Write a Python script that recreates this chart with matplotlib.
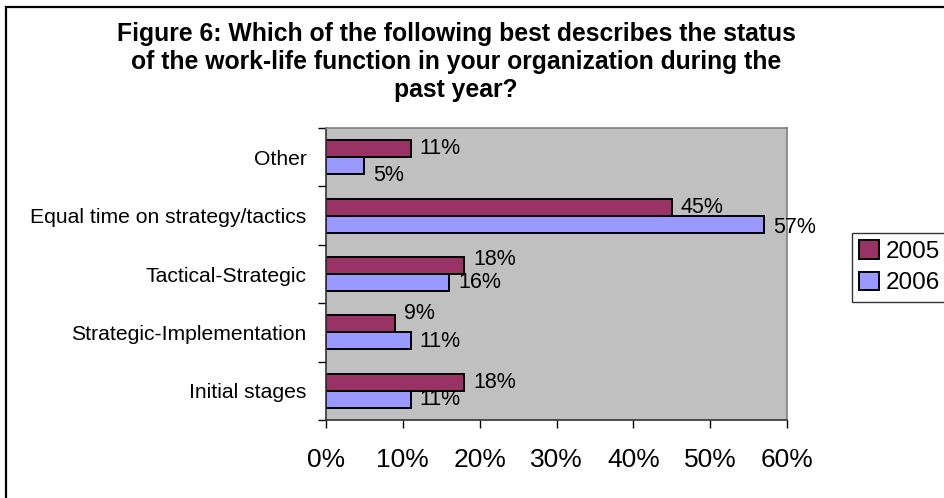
import matplotlib.pyplot as plt
from matplotlib.patches import Rectangle
from matplotlib.ticker import FixedLocator, PercentFormatter

plt.rcParams["font.family"] = ["Liberation Sans", "DejaVu Sans"]

# ── Survey data (listed bottom to top) ─────────────────────────────────────
categories = ["Initial stages", "Strategic-Implementation", "Tactical-Strategic",
              "Equal time on strategy/tactics", "Other"]
values_2005 = [18, 9, 18, 45, 11]
values_2006 = [11, 11, 16, 57, 5]
series_names = ["2005", "2006"]

# vertical nudges of the value labels, in pixels
nudge_2005 = [0, 10, 6, 0, 0]
nudge_2006 = [0, -1, 0, -3, -10]

COLOR_2005 = "#993366"
COLOR_2006 = "#9999FF"
BAR_H = 0.29

fig = plt.figure(figsize=(9.44, 4.98), dpi=100)
fig.patch.set_facecolor("white")

# chart frame (runs off the right and bottom edges)
fig.patches.append(Rectangle((6 / 944, -0.1), 1.2, 1 - 7.5 / 498 + 0.1,
                             transform=fig.transFigure, fill=False,
                             edgecolor="black", linewidth=1.6, zorder=0))

ax = fig.add_axes([326 / 944, 1 - 420 / 498, 461 / 944, 292 / 498])
ax.set_facecolor("#C0C0C0")

y = list(range(len(categories)))
y_05 = [v + BAR_H / 2 for v in y]
y_06 = [v - BAR_H / 2 for v in y]
bars_05 = ax.barh(y_05, values_2005, height=BAR_H, color=COLOR_2005,
                  edgecolor="black", linewidth=1.4, label=series_names[0])
bars_06 = ax.barh(y_06, values_2006, height=BAR_H, color=COLOR_2006,
                  edgecolor="black", linewidth=1.4, label=series_names[1])

for ys, vals, nudge in [(y_05, values_2005, nudge_2005), (y_06, values_2006, nudge_2006)]:
    for yy, v, dy in zip(ys, vals, nudge):
        ax.annotate(f"{v}%", xy=(v, yy), xytext=(9, dy), textcoords="offset pixels",
                    ha="left", va="center", fontsize=15.5, color="black",
                    annotation_clip=False)

ax.set_xlim(0, 60)
ax.set_ylim(-0.5, len(categories) - 0.5)
ax.xaxis.set_major_locator(FixedLocator([0, 10, 20, 30, 40, 50, 60]))
ax.xaxis.set_major_formatter(PercentFormatter(decimals=0))
ax.tick_params(axis="x", labelsize=19, length=6, width=1, pad=14, direction="out")

ax.set_yticks(y)
ax.set_yticklabels(categories, fontsize=15.2)
ax.tick_params(axis="y", which="major", length=0, pad=14)
ax.yaxis.set_minor_locator(FixedLocator([v - 0.5 for v in range(len(categories) + 1)]))
ax.tick_params(axis="y", which="minor", length=6, width=1, direction="out")

for side in ["left", "bottom"]:
    ax.spines[side].set_color("#333333")
    ax.spines[side].set_linewidth(1.2)
for side in ["top", "right"]:
    ax.spines[side].set_color("#808080")
    ax.spines[side].set_linewidth(1.2)

fig.text(456 / 944, 1 - 22 / 498,
         "Figure 6: Which of the following best describes the status\n"
         "of the work-life function in your organization during the\n"
         "past year?",
         ha="center", va="top", fontsize=17.8, fontweight="bold",
         linespacing=1.2)

leg = fig.legend(handles=[bars_05, bars_06], labels=series_names,
                 loc="upper left", bbox_to_anchor=(852 / 944, 1 - 233 / 498),
                 fontsize=17.5, frameon=True, fancybox=False, borderaxespad=0,
                 handlelength=0.8, handleheight=0.8, handletextpad=0.3,
                 borderpad=0.3, labelspacing=0.35)
leg.get_frame().set_edgecolor("black")
leg.get_frame().set_linewidth(1.0)

fig.savefig("out.png", dpi=100)
